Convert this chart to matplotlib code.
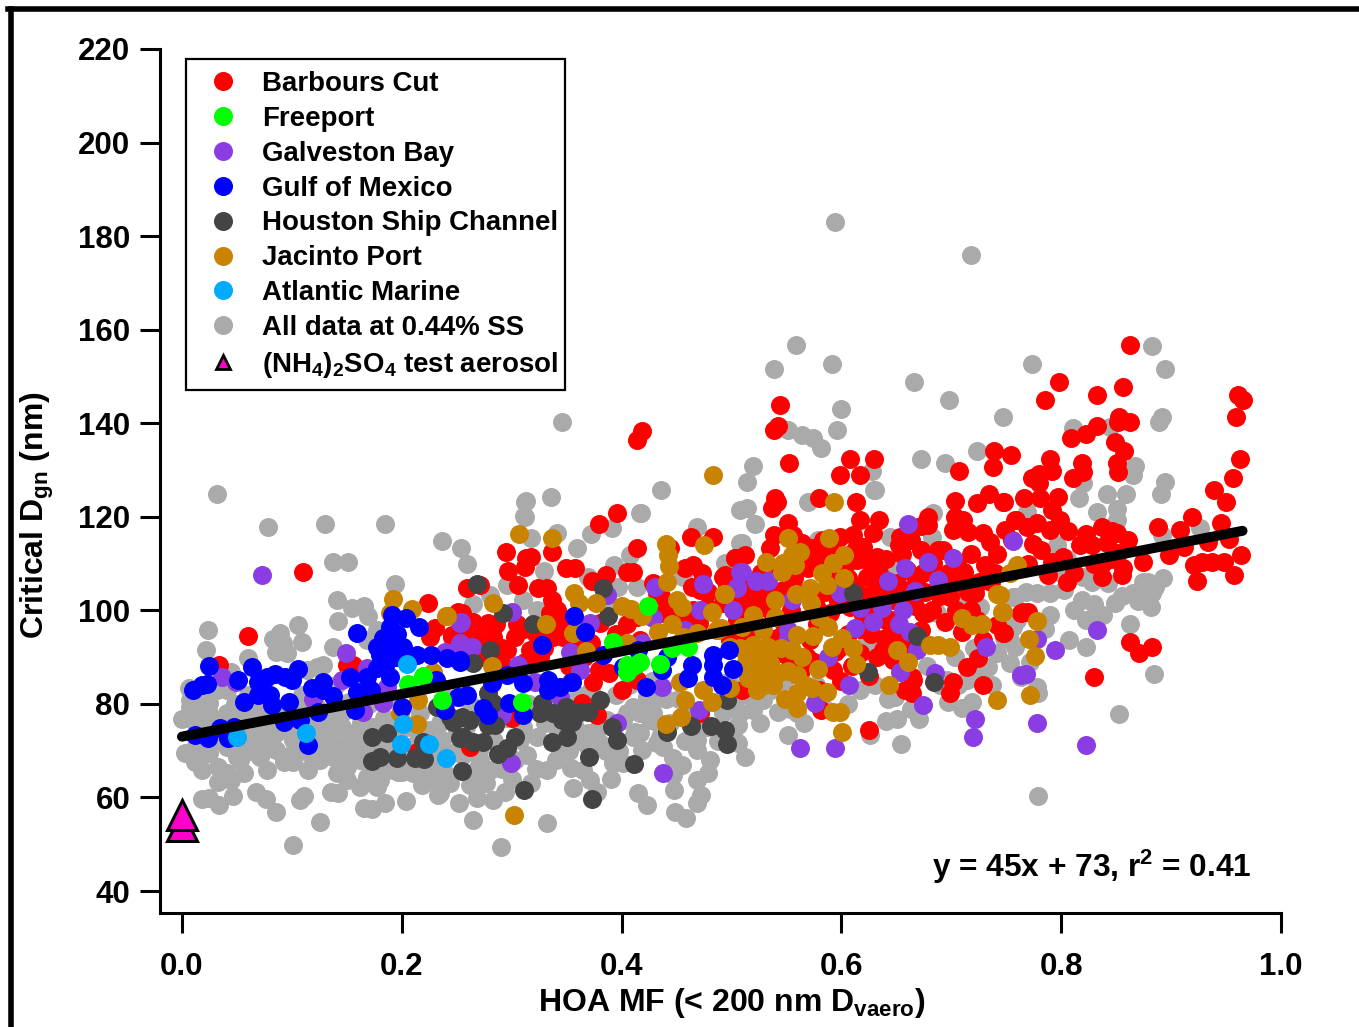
import matplotlib
matplotlib.use("Agg")
import matplotlib.pyplot as plt
import numpy as np
from matplotlib.lines import Line2D
from matplotlib.patches import Rectangle

plt.rcParams["font.family"] = ["Liberation Sans", "DejaVu Sans"]
plt.rcParams["font.weight"] = "bold"
plt.rcParams["mathtext.fontset"] = "custom"
plt.rcParams["mathtext.bf"] = "Liberation Sans:bold"
plt.rcParams["mathtext.rm"] = "Liberation Sans:bold"
plt.rcParams["mathtext.default"] = "bf"

# (HOA MF, critical Dgn), one list per site
all_data = [
    (.032,124.9),(.078,117.8),(.130,118.5),(.185,118.5),(.346,140.3),(.594,183),(.718,176),(.559,156.7),(.539,151.6),
    (.591,152.7),(.666,148.8),(.698,145),(.773,152.7),(.747,141.3),(.600,143),(.596,138.5),(.551,138.5),(.564,137.5),
    (.574,136.8),(.581,134.7),(.672,132.3),(.694,131.5),(.723,134),(.631,125.7),(.520,130.8),(.514,127.4),(.436,125.7),
    (.336,124.2),(.312,123.2),(.312,120),(.417,120.8),(.883,156.5),(.894,151.6),(.892,141.3),(.889,140.3),(.811,139),
    (.844,139.2),(.867,130.9),(.865,129),(.894,127.4),(.891,124.9),(.842,124.9),(.859,124.9),(.816,124),(.820,127.2),
    (.851,121.7),(.833,121),(.851,119.3),(.769,121),(.926,117.6),(.892,116.1),(.893,106.9),(.874,106),(.879,106),
    (.885,105),(.883,103.7),(.865,103.7),(.882,100.7),(.849,101.6),(.830,101.4),(.819,102.2),(.820,107.1),(.843,105.8),
    (.790,99),(.778,103.7),(.790,103.7),(.803,104.3),(.758,102.8),(.796,114),(.823,97.9),(.863,97.1),(.807,93.7),
    (.823,92.2),(.884,86.4),(.853,77.8),(.756,96.4),(.753,88.7),(.763,85.7),(.778,83.6),(.779,82.3),(.758,92.2),(.779,60.3),
    (.628,129.8),(.630,125.7),(.570,123.2),(.514,121.9),(.521,118.5),(.683,120.8),(.682,115.7),(.644,115.7),(.510,114.4),
    (.579,115),(.646,109.7),(.756,102.8),(.751,98.6),(.753,93.7),(.742,90.9),(.733,87.9),(.714,85.1),(.719,80.4),(.710,79.1),
    (.697,80.4),(.671,76.8),(.651,76.8),(.641,76.3),(.654,71.4),(.626,73.3),(.551,73.3),(.512,68.6),(.506,71.6),(.506,75.5),
    (.520,78.7),(.503,79.3),(.542,78.3),(.560,78),(.529,80.8),(.623,93.7),(.629,92.2),(.687,99.4),(.726,100.7),(.708,102.2),
    (.649,81.5),(.696,85.1),
    (.313,123.4),(.311,120.2),(.418,120.8),(.391,117.6),(.372,116.3),(.341,116.5),(.318,115.5),(.237,114.8),(.254,113.3),
    (.259,109.9),(.359,113.3),(.408,111.8),(.393,109.7),(.469,117.8),(.329,108.4),(.296,105.4),(.369,107.1),(.397,105),
    (.414,105),(.265,101.4),(.280,103.3),(.310,102.2),(.323,100),(.389,101.6),(.508,121.4),(.508,114.4),(.494,110.1),(.456,107.1),
    (.332,65.9),(.354,66.3),(.365,65.9),(.371,63.7),(.378,61.2),(.415,61),(.423,58.4),(.448,61.6),(.447,64.8),(.449,56.9),
    (.459,55.6),(.469,63.7),(.479,65.2),(.472,60.5),(.469,58.8),(.265,55.2),(.290,49.4),(.332,54.5),(.252,58.8),(.268,59.9),
    (.283,59.5),(.294,61.2),(.262,62.7),(.244,63.1),(.235,61),(.280,65.9),(.271,68),(.314,69.1),(.344,69.7),(.323,72.9),
    (.369,70.8),(.392,67.4),(.401,67.4),(.419,70.1),(.432,71.6),(.438,70.8),(.447,68.4),(.426,76.6),(.410,79.3),(.401,76.6),
    (.417,73.8),(.410,72.9),(.380,71.6),(.308,72.3),(.378,74.4),(.508,78),(.469,70.1),(.423,81.5),(.429,80.8),(.492,78),
    (.387,76.6),(.369,73.8),(.405,78),(.417,78),(.429,78),(.435,72.9),(.444,75.9),(.490,80.8),(.501,73.8),(.469,72.3),
    (.137,110.3),(.151,110.3),(.194,105.6),(.141,102.2),(.155,100.5),(.166,100.9),(.169,98.8),(.142,97.7),(.024,95.8),
    (.022,91.5),(.106,96.9),(.089,95.2),(.083,93.9),(.092,93),(.109,93.2),(.086,91.1),(.096,90.9),(.060,89.8),(.137,92.2),
    (.176,94),(.128,88.3),(.114,87.2),(.045,86.8),(.007,80.8),(.0,76.8),(.003,69.5),(.012,67.6),(.018,65.9),(.033,63.3),
    (.045,63.7),(.056,65.2),(.018,59.7),(.025,59.9),(.034,58.4),(.046,60.3),(.067,61.2),(.076,59.7),(.086,56.9),(.101,49.8),
    (.107,59.5),(.111,60.3),(.126,54.7),(.166,57.7),(.173,57.5),(.185,58.8),(.204,59.2),(.077,65.9),(.053,68),(.101,67.6),
    (.115,65.9),(.136,61.2),(.142,61),(.150,63.7),(.162,62.2),(.177,62.2),(.180,63.7),(.197,65.4),(.218,62.7),(.232,64.4),
    (.233,60.5),(.025,69.5),(.041,70.8),(.050,68.6),(.033,66.5),(.041,65.2),(.007,79.3),(.010,76.6),(.025,78),(.041,78),
    (.056,77.2),(.071,75.1),(.071,71.6),(.086,73.8),(.086,70.1),(.071,68.6),(.101,72.3),(.101,69.5),(.116,69.5),(.126,68),
    (.132,72.3),(.146,75.1),(.146,70.8),(.162,72.3),(.137,68.6),(.150,66.5),(.162,68),(.177,65.9),(.168,64.4),(.141,65.2),
    (.123,76.6),(.071,79.3),(.041,83),(.032,83),(.025,80.2),(.101,79.3),(.116,78.7),(.146,78),(.174,75.1),(.192,65.9),
    (.210,65.2),(.223,63.7),(.247,69.5),(.237,72.3),(.192,75.1),(.168,69.5),(.192,70.8),(.207,70.8),(.223,66.5),(.123,87.9),
    (.168,93.7),(.177,95.8),
    # solid part of the gray cloud at low HOA
    (.006,83.5),(.017,81),(.016,74.5),(.018,71),(.030,72),(.012,70.5),(.034,76),(.047,74),(.048,80),(.060,82),
    (.058,73),(.062,70),(.078,82),(.079,76.5),(.080,72),(.091,79),(.093,67.5),(.109,82),(.110,75),(.112,71.5),
    (.121,73),(.128,75),(.134,78),(.140,84),(.139,75.5),(.152,80.5),(.153,72.5),(.155,69),(.163,76),(.170,80),
    (.176,71.5),(.184,77),(.186,69.5),(.188,81),(.196,72.5),(.199,68),(.205,75),(.210,67.5),(.217,78),(.224,74.5),
    (.229,69),(.235,76),(.236,67),(.243,81),(.250,74),(.256,69),(.262,80),(.268,66),(.275,78),(.284,72),(.291,66),
    (.296,77),(.303,68),(.316,80),(.322,66),(.335,82),(.340,68),(.352,70),(.358,75),(.360,82),(.372,83),(.386,70),
    (.395,82),(.407,84),(.412,74),(.428,85),(.440,81),(.452,81),(.458,72),(.464,78),(.478,75),(.488,72),(.498,85),
    (.514,82),(.526,76),(.536,83),(.548,85),(.553,79),(.566,76),(.577,84),(.585,79),(.606,80),(.617,83),(.631,84),
    (.642,81),(.663,79),(.678,88),(.690,84),(.703,90),(.706,84),(.721,92),(.728,87),(.737,84),(.748,94),(.760,98),
    (.768,104),(.772,89),(.785,96),(.800,108),(.812,100),(.805,111),(.828,106),(.838,99),(.855,103),(.870,102),
    (.014,78),(.021,75),(.028,74),(.039,74.5),(.053,71),(.065,73),(.066,77),(.074,73.5),(.087,77),(.096,75),(.103,76),
    (.118,71),(.121,80),(.129,70.5),(.136,73),(.143,80),(.148,68),(.158,74),(.160,70),(.171,73),(.180,72.5),(.182,66.5),
    (.200,65.5),(.213,76),(.216,73),(.228,72),(.240,65),(.258,75),(.270,70),(.277,63),(.300,64),(.310,75),(.318,63),
    (.330,76),(.342,74),(.356,62),(.362,72),(.390,64),(.398,70),(.433,76),(.455,67),(.480,68),
]
barbours_cut = [
    (.863,156.7),(.798,148.8),(.785,145),(.833,146),(.856,147.7),(.961,146),(.965,145),(.959,141.3),(.963,132.3),(.956,128.3),
    (.939,125.7),(.950,123.2),(.919,120),(.945,118.7),(.888,117.8),(.908,117.2),(.934,114.6),(.953,115.2),(.964,111.8),
    (.898,111.8),(.912,113.5),(.921,109.7),(.928,110.3),(.937,110.3),(.948,110.3),(.957,107.5),(.924,106.3),(.863,93.2),
    (.871,90.9),(.883,92.2),(.830,85.7),(.853,141.3),(.863,140.3),(.852,140.3),(.833,139.4),(.823,137.7),(.809,136.8),
    (.849,136),(.857,134),(.851,131.5),(.852,129.6),(.790,132.3),(.819,131.5),(.820,129.6),(.811,128.3),(.792,129.8),
    (.780,129.1),(.773,128.3),(.780,127.2),(.754,133.2),(.748,123.2),(.766,124),(.781,124),(.797,124.2),(.792,121.4),
    (.759,119.3),(.769,117.8),(.778,118.7),(.790,117.2),(.799,119.3),(.806,117),(.823,116.3),(.837,117.8),(.851,116.5),
    (.861,115),(.842,114.4),(.817,114),(.774,114.2),(.802,111.4),(.792,110.3),(.788,107.5),(.805,106),(.837,107.1),
    (.855,107.5),(.874,110.3),(.838,110.1),(.852,112.3),(.770,99.6),(.765,99.6),(.748,95.2),
    (.544,143.9),(.542,139.4),(.539,138.5),(.552,131.5),(.608,132.3),(.630,132.3),(.599,128.9),(.617,128.9),(.540,124),
    (.541,123.2),(.537,121.9),(.580,124),(.613,123.2),(.617,119.3),(.634,119.3),(.551,118.7),(.707,129.8),(.739,134),
    (.738,130.6),(.703,123.4),(.723,122.9),(.734,124.9),(.747,123.2),(.679,120),(.679,118.2),(.703,120),(.711,119.3),
    (.702,117.2),(.715,116.7),(.729,116.5),(.735,114.6),(.758,119.3),(.749,117.2),(.653,115.7),(.652,114),(.672,112.9),
    (.731,109.7),(.712,108.2),(.722,103.7),(.699,102.8),(.678,99.4),(.694,97.5),(.710,95.4),(.747,95.2),(.742,96.9),
    (.729,93.7),(.724,89.8),(.714,87.9),(.702,84.7),(.699,82.3),(.729,84),(.625,74.4),(.664,82.3),(.664,85.7),
    (.629,116.5),(.620,113.5),(.632,111.4),(.614,110.8),(.623,107.1),(.632,105),(.599,115.7),(.574,113.3),(.564,114.4),
    (.535,113.3),(.512,111.8),(.503,111.2),(.494,107.5),(.565,110.1),(.544,108.6),(.547,104.3),(.526,102.8),(.517,102.8),
    (.508,102.2),(.578,110.8),(.592,106.5),(.590,99.4),(.608,100.7),(.623,110.8),(.629,101.6),(.647,102.2),(.660,108.6),
    (.674,108),(.683,110.1),(.651,105.8),(.674,99.4),(.641,97.9),(.651,95.2),(.672,95.8),(.638,91.5),(.632,90),(.617,90.9),
    (.647,89.4),(.592,87.2),(.571,93.7),(.569,90),(.562,86.6),(.544,90.9),(.535,93),(.517,90),(.510,83),(.529,100.7),
    (.514,100.7),(.496,105),(.581,78.7),(.665,85.1),(.658,83),(.653,104.3),(.723,97.9),(.763,99.4),
    (.396,120.8),(.379,118.4),(.295,112.5),(.337,112.5),(.313,111.2),(.318,111.4),(.414,113.3),(.297,108.4),(.312,109.3),
    (.306,105.4),(.349,109),(.358,109),(.405,108.2),(.410,108.2),(.373,106.3),(.386,107.5),(.463,115.7),(.483,115.7),
    (.444,113.3),(.503,111.2),(.465,109.7),(.458,109),(.473,108),(.492,107.1),(.464,105),(.429,105.8),(.259,104.8),
    (.271,105.4),(.324,104.8),(.332,104.8),(.337,102.2),(.255,99.4),(.265,97.5),(.278,97.3),(.246,94.7),(.268,94.3),
    (.283,94.3),(.303,94.3),(.296,91.5),(.317,91.5),(.335,99.4),(.344,97.3),(.338,94.3),(.326,90),(.347,94.3),(.380,97.3),
    (.414,98.6),(.432,103.7),(.438,99.4),(.447,101.6),(.478,100.7),(.492,101.6),(.471,104.3),(.453,99.4),(.417,93.7),
    (.379,87.2),(.374,84.7),(.389,86.6),(.400,83),(.414,85.1),(.364,80.2),(.378,77.6),(.300,77),(.262,70.8),(.471,78),
    (.470,97.3),(.487,95.8),(.499,93.7),
    (.110,108.2),(.060,94.5),(.034,88.3),(.224,101.6),(.251,99.6),(.150,88.3),(.156,88.3),(.226,94.3),(.230,96.2),(.246,94.3),
    (.214,69.7),(.414,136.4),(.419,138.3),
    # dense red band along the fit
    (.258,95),(.272,93),(.286,97),(.291,92),(.305,97),(.311,96),(.322,95),(.329,92),(.312,89),(.290,89),(.274,90),
    (.341,100),(.352,88),(.360,93),(.366,90),(.372,93),(.395,95),(.405,97),(.425,99),(.436,103),(.459,97),(.465,100),
    (.479,104),(.505,98),(.514,94),(.522,97),(.531,104),(.538,99),(.548,97),(.554,100),(.557,107),(.568,104),(.577,101),
    (.585,104),(.598,111),(.597,102),(.606,107),(.612,113),(.606,95),(.598,92),(.612,105),(.622,103),(.627,95),(.617,96),
    (.634,108),(.641,111),(.641,103),(.640,94),(.657,101),(.660,92),(.668,106),(.667,101),(.676,104),(.682,100),(.690,103),
    (.692,113),(.705,110),(.705,106),(.718,112),(.718,100),(.736,106),(.742,112),(.755,115),(.770,110),(.782,113),(.812,108),
    (.828,114),(.845,111),(.846,117),(.856,109),(.830,110),(.578,97),(.575,89),(.530,88),(.541,94),(.553,88),(.594,91),
    (.611,116),(.604,110),(.590,113),(.583,115),(.570,109),(.556,116),(.539,116),(.527,108),(.520,106),(.500,103),
    (.615,101),(.620,99),(.635,100),(.645,98),(.655,112),(.663,115),(.672,118),(.688,113),(.697,108),(.704,100),(.715,104),
    (.725,106),(.740,108),(.610,88),(.600,85),(.625,86),(.580,83),
]
galveston_bay = [
    (.073,107.5),(.036,85.7),(.049,84.7),(.149,90.9),(.146,85.1),(.119,81),(.165,78.3),(.174,82.3),(.183,80.2),(.168,87.7),
    (.239,91.1),(.253,97.3),(.253,93),(.187,83.6),(.254,97.5),(.300,99.6),(.387,103.3),(.430,105),(.474,105.6),(.429,98.4),
    (.471,100),(.501,100),(.508,108.2),(.371,97.3),(.353,91.1),(.255,92.6),(.264,92.2),(.244,90.9),(.306,88.3),(.321,84.7),
    (.362,87.2),(.344,81.5),(.291,77.6),(.396,75.9),(.299,67.4),(.438,65.2),(.437,83.6),(.470,78.7),(.419,93),(.458,95.8),
    (.505,105),(.661,118.5),(.756,114.8),(.702,111.2),(.679,110.3),(.658,109),(.642,106.3),(.688,106.5),(.667,104.1),
    (.510,108.2),(.505,104.8),(.522,106.3),(.533,106.3),(.555,102.2),(.599,103.7),(.612,96.2),(.629,97.5),(.617,100.5),
    (.637,100.5),(.656,100),(.652,97.1),(.662,95.4),(.669,91.5),(.551,95.8),(.551,94.1),(.588,90),(.607,84),(.653,86.8),
    (.685,86.6),(.674,79.8),(.576,80.2),(.732,92.2),(.722,76.8),(.720,72.9),(.562,70.6),(.594,70.6),(.763,86.2),
    (.778,93.9),(.794,91.5),(.833,95.8),(.768,86.4),(.778,75.9),(.823,71.2),
]
houston_ship_channel = [
    (.268,105.6),(.292,99.4),(.383,104.8),(.388,98.8),(.319,97.1),(.280,91.5),(.265,88.7),(.278,82.3),(.283,80.2),(.380,80.8),
    (.328,80.2),(.326,78),(.338,78),(.349,79.3),(.350,77.2),(.362,78.3),(.369,78.3),(.355,76.1),(.346,76.6),(.350,72.9),
    (.337,71.9),(.303,72.9),(.296,70.6),(.288,69.3),(.255,77.2),(.247,76.1),(.262,76.6),(.278,75.5),(.285,75.5),(.256,72.9),
    (.265,71.9),(.274,71.9),(.391,75),(.396,72.3),(.370,68.6),(.411,67.1),(.255,65.7),(.311,61.6),(.373,59.7),(.354,84.7),
    (.496,80.8),(.441,74),(.463,75.3),(.481,75.3),(.494,74.4),(.496,71.4),(.173,72.9),(.187,73.8),(.219,71.9),(.173,67.8),
    (.180,68.6),(.196,68.4),(.212,68.4),(.220,68.2),(.253,72.7),(.232,79.3),(.244,77.2),(.611,103.7),(.669,94.5),(.624,86.8),
    (.684,84.7),
]
jacinto_port = [
    (.551,115.5),(.589,115.5),(.593,123.2),(.531,110.3),(.562,112.5),(.555,111.8),(.547,110.1),(.558,109.7),(.546,108.2),
    (.602,111.8),(.592,110.1),(.582,108),(.602,106.9),(.587,105.4),(.571,104.8),(.559,103.5),(.572,101.6),(.494,103.5),
    (.540,102.2),(.520,99),(.540,98.6),(.510,96.4),(.490,96.2),(.529,95.8),(.580,98.6),(.588,96.4),(.560,94.7),(.574,94.5),
    (.555,91.5),(.564,90),(.601,94.1),(.611,91.9),(.591,92.2),(.613,88.5),(.533,92.2),(.520,92.6),(.525,90),(.535,88.7),
    (.521,87.9),(.542,86.6),(.560,86.2),(.579,87.5),(.515,85.5),(.523,83),(.573,83.4),(.587,82.5),(.560,82.3),(.549,81),
    (.560,79.1),(.592,78.3),(.599,78.3),(.601,74),(.643,84),(.651,91.5),(.661,89),(.681,92.6),(.688,92.6),(.699,92.2),
    (.710,98.4),(.719,96.9),(.728,97.1),(.746,99.6),(.742,103.5),(.742,80.8),(.760,109.7),(.753,108),(.744,103.3),(.747,99.6),
    (.778,97.7),(.771,93.9),(.776,90.2),(.772,81.9),
    (.307,116.3),(.337,115.5),(.440,114.2),(.442,111.8),(.443,109.5),(.475,114),(.441,106),(.357,103.7),(.361,101.6),
    (.377,101.6),(.400,100.9),(.409,100.3),(.419,98.8),(.450,102.2),(.455,100.7),(.482,99.6),(.493,103.5),(.283,101.6),
    (.241,98.8),(.331,97.1),(.356,95.2),(.368,91.3),(.282,88.1),(.433,95.4),(.446,97.1),(.456,94.3),(.469,95.2),(.487,95.8),
    (.499,92.2),(.453,84.7),(.458,80.8),(.474,83),(.482,80.4),(.454,77.2),(.440,75.7),(.302,56.2),(.499,83.4),(.405,93),
    (.483,129),(.192,102.4),(.209,100.3),(.240,98.8),(.228,86.8),(.215,80.8),(.198,78),(.214,75.7),(.189,99.4),
    (.528,87),(.538,84),(.551,87),(.567,84),(.530,84),(.508,92),(.513,89),(.545,92),
]
gulf_of_mexico = [
    (.010,83),(.018,84),(.023,84.2),(.025,88.1),(.051,85.1),(.064,87.9),(.056,80.4),(.069,84.7),(.077,85.7),(.085,86.4),
    (.094,85.7),(.100,85.1),(.106,87.5),(.069,81.9),(.080,81.9),(.082,79.8),(.097,80.4),(.012,73.3),(.024,72.7),(.035,74.8),
    (.047,75.1),(.042,72.7),(.093,76.1),(.107,76.6),(.124,78.3),(.115,71.2),(.118,83.4),(.128,84.7),(.137,81.7),(.128,83),
    (.159,95.2),(.153,85.7),(.159,82.5),(.168,85.7),(.157,78.7),(.177,87.7),(.177,92.2),(.187,92.2),(.180,90.4),(.191,99),
    (.204,98.4),(.189,96.4),(.216,96.4),(.201,92.2),(.189,85.7),(.214,90.4),(.227,90.4),(.241,89.8),(.253,89.4),(.200,79.3),
    (.231,85.1),(.239,78.7),(.253,89),(.259,81.9),(.251,81.5),(.274,79.1),(.278,77.6),(.328,92.6),(.357,98.8),(.367,95.4),
    (.310,84.5),(.298,80.2),(.310,77.6),(.282,84.5),(.296,86.2),(.333,85.1),(.333,83),(.344,83.6),(.355,84.7),(.383,90.4),
    (.415,91.5),(.401,87.9),(.437,87.2),(.422,83.6),(.441,90),(.464,88.3),(.460,85.5),(.483,90.4),(.483,88.3),(.498,91.5),
    (.501,87.5),(.483,85.7),(.491,84),(.183,94),(.195,90),(.196,95),(.185,88),(.172,83),
]
freeport = [
    (.424,100.9),(.392,93.2),(.405,88.3),(.408,87.7),(.412,88.3),(.405,86.8),(.417,89),(.435,88.5),(.446,92),(.460,92.2),
    (.237,80.8),(.309,80.4),(.219,86),(.206,84.2),
]
atlantic_marine = [(.050,72.9),(.113,73.8),(.205,88.5),(.201,75.7),(.199,71.4),(.225,71.4),(.240,68.4)]
test_aerosol_x = [0.0, 0.0]
test_aerosol_y = [53.8, 56.2]
fit_x = [0.0, 0.965]
fit_y = [73.0, 117.0]

x_ticks = [0.0, 0.2, 0.4, 0.6, 0.8, 1.0]
y_ticks = [40, 60, 80, 100, 120, 140, 160, 180, 200, 220]

W, H = 1359, 1027
fig = plt.figure(figsize=(W / 100, H / 100), dpi=100)
ax = fig.add_axes([160 / W, 1 - 913 / H, (1281 - 160) / W, (913 - 49) / H])

# bottom layer first, same stacking as the original
layers = [
    (all_data, "#AAAAAA"),
    (barbours_cut, "#FF0000"),
    (galveston_bay, "#8A3DE2"),
    (houston_ship_channel, "#444444"),
    (jacinto_port, "#C88400"),
    (gulf_of_mexico, "#0000FF"),
    (freeport, "#00FF00"),
    (atlantic_marine, "#00AAFF"),
]
for pts, color in layers:
    arr = np.array(pts)
    ax.scatter(arr[:, 0], arr[:, 1], s=187, c=color, linewidths=0, clip_on=False)

ax.plot(fit_x, fit_y, color="black", lw=7.2, solid_capstyle="round", zorder=5)
ax.plot(test_aerosol_x, test_aerosol_y, ls="none", marker="^", ms=21, mfc="#FF00CC", mec="black",
        mew=2.2, clip_on=False, zorder=6)

ax.set_xlim(-0.02, 1.0)
ax.set_ylim(35.3, 220)
ax.set_xticks(x_ticks)
ax.set_xticklabels([f"{v:.1f}" for v in x_ticks])
ax.set_yticks(y_ticks)
for side in ["top", "right"]:
    ax.spines[side].set_visible(False)
for side in ["left", "bottom"]:
    ax.spines[side].set_linewidth(2.2)
ax.tick_params(axis="both", length=14.5, width=2.2, labelsize=22.5)
ax.tick_params(axis="x", pad=13.5)
ax.tick_params(axis="y", pad=7)

ax.set_xlabel(r"HOA MF (< 200 nm D$_{\mathbf{vaero}}$)", fontsize=23, fontweight="bold")
ax.xaxis.set_label_coords((732 - 160) / 1121, -0.084)
ax.set_ylabel(r"Critical D$_{\mathbf{gn}}$ (nm)", fontsize=23, fontweight="bold")
ax.yaxis.set_label_coords((56 - 160) / 1121, 0.46)

ax.text(1252 / W, 1 - 867 / H, r"y = 45x + 73, r$^{\mathbf{2}}$ = 0.41", transform=fig.transFigure,
        ha="right", va="center", fontsize=22.8, fontweight="bold")

dot = dict(ls="none", marker="o", ms=13.7, mew=0)
handles = [
    Line2D([], [], color="#FF0000", **dot),
    Line2D([], [], color="#00FF00", **dot),
    Line2D([], [], color="#8A3DE2", **dot),
    Line2D([], [], color="#0000FF", **dot),
    Line2D([], [], color="#444444", **dot),
    Line2D([], [], color="#C88400", **dot),
    Line2D([], [], color="#00AAFF", **dot),
    Line2D([], [], color="#AAAAAA", **dot),
    Line2D([], [], ls="none", marker="^", ms=10, mfc="#FF00CC", mec="black", mew=2),
]
labels = ["Barbours Cut", "Freeport", "Galveston Bay", "Gulf of Mexico", "Houston Ship Channel", "Jacinto Port",
          "Atlantic Marine", "All data at 0.44% SS", r"(NH$_{\mathbf{4}}$)$_{\mathbf{2}}$SO$_{\mathbf{4}}$ test aerosol"]
leg = ax.legend(handles, labels, loc="upper left", bbox_to_anchor=(201 / W, 1 - 71 / H), bbox_transform=fig.transFigure,
                borderaxespad=0, fontsize=19.9, frameon=False, labelspacing=0.32,
                handletextpad=0.62, handlelength=1.6, borderpad=0)
leg.set_zorder(10)

# legend box sits slightly tighter than legend's own frame would
fig.add_artist(Rectangle((186 / W, 1 - 390 / H), 379 / W, 331 / H, fill=False, ec="black", lw=1.6,
                         transform=fig.transFigure))

# outer picture frame, only top and left are in view
fig.add_artist(Line2D([10.5 / W, 10.5 / W], [0, 1 - 8.5 / H], color="black", lw=4, transform=fig.transFigure))
fig.add_artist(Line2D([8 / W, 1], [1 - 8.5 / H, 1 - 8.5 / H], color="black", lw=4, transform=fig.transFigure))

fig.savefig("out.png", dpi=100)
